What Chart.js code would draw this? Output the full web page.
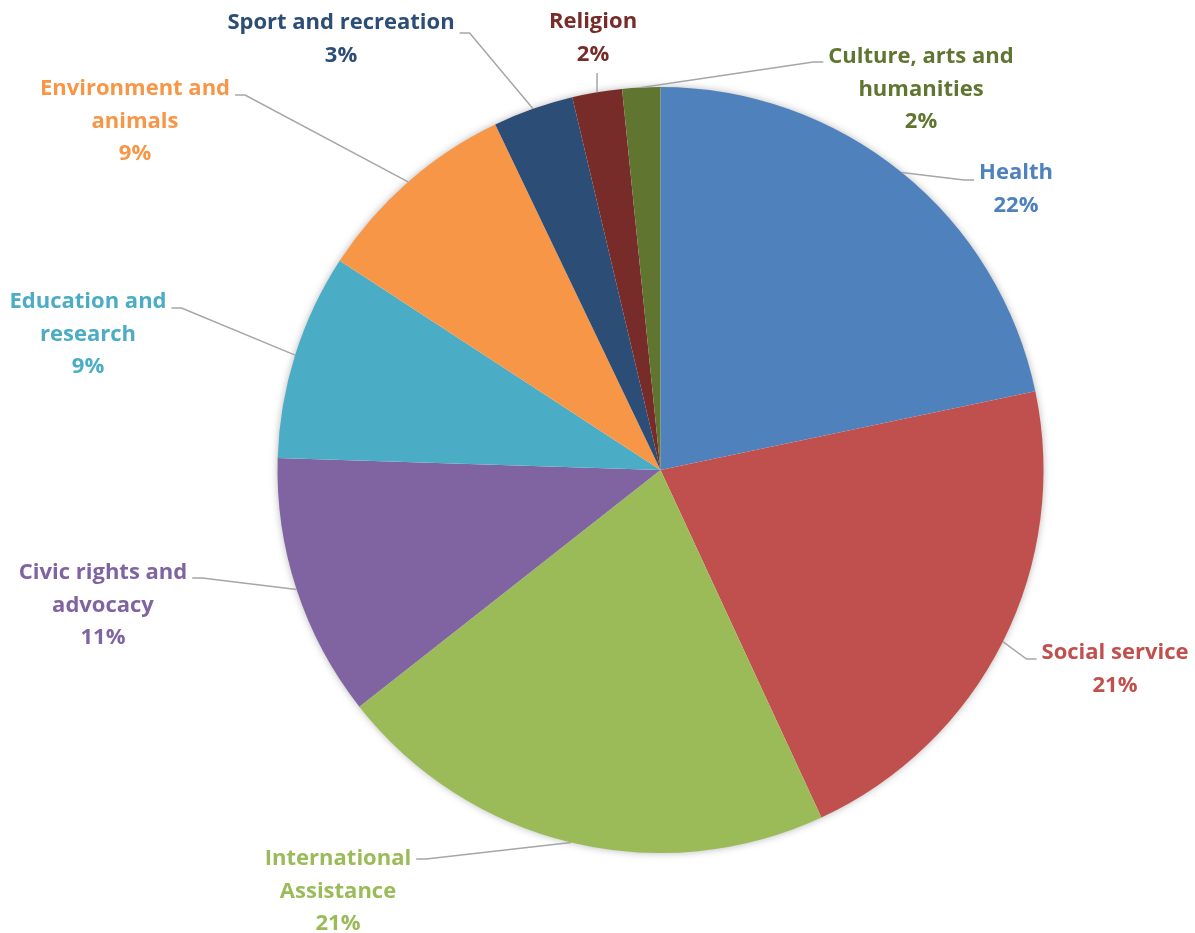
<!DOCTYPE html>
<html>
<head>
<meta charset="utf-8">
<script src="https://cdn.jsdelivr.net/npm/chart.js@4/dist/chart.umd.min.js"></script>
<style>
  html, body { margin: 0; padding: 0; background: #ffffff; }
  #wrap { width: 1195px; height: 933px; }
</style>
</head>
<body>
<div id="wrap"><canvas id="pie" width="1195" height="933"></canvas></div>
<script>
// Share of giving by cause (percent)
const categories = [
  "Health", "Social service", "International Assistance", "Civic rights and advocacy",
  "Education and research", "Environment and animals", "Sport and recreation",
  "Religion", "Culture, arts and humanities"
];
const shares = [21.7, 21.4, 21.3, 11.1, 8.7, 8.7, 3.4, 2.1, 1.6];

// Category names as they wrap in the data labels
const labelLines = [
  ["Health"], ["Social service"], ["International", "Assistance"],
  ["Civic rights and", "advocacy"], ["Education and", "research"],
  ["Environment and", "animals"], ["Sport and recreation"], ["Religion"],
  ["Culture, arts and", "humanities"]
];

const sliceColors = ["#4F81BD", "#C0504D", "#9BBB59", "#8064A2", "#4BACC6", "#F79646", "#2C4D75", "#772C2A", "#5F7530"];

// Label placement: block centre x, first-line centre y, leader attach y, side of the block the leader meets
const labelLayout = [
  { x: 1016, y: 173, ly: 180, side: "left" },
  { x: 1115, y: 653, ly: 659, side: "left" },
  { x: 338,  y: 859, ly: 859, side: "right" },
  { x: 103,  y: 573, ly: 578, side: "right" },
  { x: 88,   y: 302, ly: 308, side: "right" },
  { x: 135,  y: 89,  ly: 95,  side: "right" },
  { x: 341,  y: 23,  ly: 33,  side: "right" },
  { x: 593,  y: 22,  ly: 73,  side: "bottom" },
  { x: 921,  y: 57,  ly: 62,  side: "left" }
];

const FONT = "bold 22px 'Open Sans', Lato, sans-serif";
const LINE_H = 32.5;

const total = shares.reduce((a, b) => a + b, 0);
const pctText = shares.map(v => Math.round(v * 100 / total) + "%");

// Soft shadow around the whole pie
const pieShadow = {
  id: "pieShadow",
  beforeDatasetsDraw(chart) {
    const arc = chart.getDatasetMeta(0).data[0];
    if (!arc) return;
    const ctx = chart.ctx;
    ctx.save();
    ctx.shadowColor = "rgba(0,0,0,0.35)";
    ctx.shadowBlur = 9;
    ctx.fillStyle = "#ffffff";
    ctx.beginPath();
    ctx.arc(arc.x, arc.y, arc.outerRadius - 1, 0, Math.PI * 2);
    ctx.fill();
    ctx.restore();
  }
};

// Outside data labels with leader lines
const outsideLabels = {
  id: "outsideLabels",
  afterDatasetsDraw(chart) {
    const ctx = chart.ctx;
    const meta = chart.getDatasetMeta(0);
    ctx.save();
    ctx.font = FONT;
    meta.data.forEach((arc, i) => {
      const L = labelLayout[i];
      const lines = labelLines[i].concat([pctText[i]]);
      const boxW = Math.max(...lines.map(t => ctx.measureText(t).width));
      const mid = (arc.startAngle + arc.endAngle) / 2;
      const sx = arc.x + Math.cos(mid) * arc.outerRadius;
      const sy = arc.y + Math.sin(mid) * arc.outerRadius;

      ctx.strokeStyle = "#A6A6A6";
      ctx.lineWidth = 1.5;
      ctx.beginPath();
      ctx.moveTo(sx, sy);
      if (L.side === "bottom") {
        ctx.lineTo(sx, L.ly);
      } else if (L.side === "left") {
        const ex = L.x - boxW / 2 - 5;
        ctx.lineTo(ex - 10, L.ly);
        ctx.lineTo(ex, L.ly);
      } else {
        const ex = L.x + boxW / 2 + 5;
        ctx.lineTo(ex + 10, L.ly);
        ctx.lineTo(ex, L.ly);
      }
      ctx.stroke();

      ctx.fillStyle = sliceColors[i];
      ctx.textAlign = "center";
      ctx.textBaseline = "middle";
      lines.forEach((t, k) => ctx.fillText(t, L.x, L.y + k * LINE_H));
    });
    ctx.restore();
  }
};

new Chart(document.getElementById("pie"), {
  type: "pie",
  data: {
    labels: categories,
    datasets: [{
      data: shares,
      backgroundColor: sliceColors,
      borderWidth: 0,
      hoverOffset: 0
    }]
  },
  options: {
    responsive: false,
    devicePixelRatio: 1,
    animation: false,
    layout: { padding: { left: 277, right: 151, top: 87, bottom: 80 } },
    plugins: {
      legend: { display: false },
      tooltip: { enabled: false },
      title: { display: false }
    }
  },
  plugins: [pieShadow, outsideLabels]
});
</script>
</body>
</html>
